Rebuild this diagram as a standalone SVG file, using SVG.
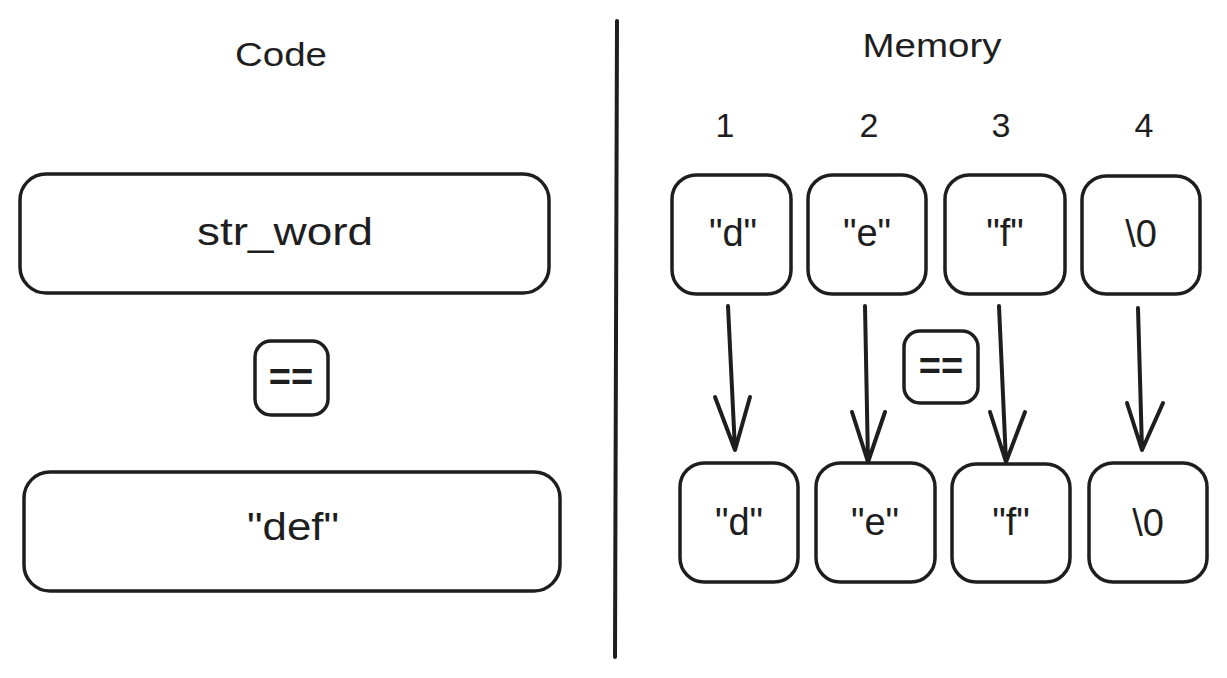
<svg xmlns="http://www.w3.org/2000/svg" width="1227" height="678" viewBox="0 0 1227 678">
<style>
.box{fill:none;stroke:#1e1e1e;stroke-width:3.5;stroke-linejoin:round}
.t{font-family:"Liberation Sans",Arial,sans-serif;fill:#1e1e1e;text-anchor:middle}
.big{font-size:38px}
.ttl{font-size:34px}
.con{fill:none;stroke:#1e1e1e;stroke-width:4;stroke-linecap:round;stroke-linejoin:round}
</style>
<rect width="1227" height="678" fill="#ffffff"/>
<g id="divider"><path class="con" d="M617 21 L615 657"/></g>
<g id="title-code"><text class="t ttl" x="281" y="66" textLength="92" lengthAdjust="spacingAndGlyphs">Code</text></g>
<g id="title-memory"><text class="t ttl" x="932" y="57" textLength="139" lengthAdjust="spacingAndGlyphs">Memory</text></g>
<g id="idx1"><text class="t ttl" x="725" y="137">1</text></g>
<g id="idx2"><text class="t ttl" x="869" y="137">2</text></g>
<g id="idx3"><text class="t ttl" x="1001" y="137">3</text></g>
<g id="idx4"><text class="t ttl" x="1144" y="137">4</text></g>

<g id="str-word"><rect class="box" x="20" y="174" width="529" height="119" rx="26"/><text class="t big" x="285" y="245" textLength="176" lengthAdjust="spacingAndGlyphs">str_word</text></g>
<g id="eq-code"><rect class="box" x="255" y="341" width="73" height="74" rx="16"/><text class="t big" x="291" y="390" font-weight="bold">==</text></g>
<g id="def"><rect class="box" x="24" y="472" width="536" height="119" rx="26"/><text class="t big" x="293" y="540" textLength="92" lengthAdjust="spacingAndGlyphs">"def"</text></g>

<g id="m-top-1"><rect class="box" x="672" y="175" width="119" height="119" rx="24"/><text class="t big" x="733" y="246">"d"</text></g>
<g id="m-top-2"><rect class="box" x="808" y="175" width="118" height="119" rx="24"/><text class="t big" x="867" y="246">"e"</text></g>
<g id="m-top-3"><rect class="box" x="945" y="175" width="120" height="119" rx="24"/><text class="t big" x="1005" y="246">"f"</text></g>
<g id="m-top-4"><rect class="box" x="1082" y="176" width="118" height="118" rx="24"/><text class="t big" x="1141" y="247">\0</text></g>

<g id="eq-mem"><rect class="box" x="904" y="331" width="74" height="72" rx="16"/><text class="t big" x="941" y="379" font-weight="bold">==</text></g>

<g id="m-bot-1"><rect class="box" x="680" y="463" width="118" height="119" rx="24"/><text class="t big" x="739" y="535">"d"</text></g>
<g id="m-bot-2"><rect class="box" x="816" y="463" width="119" height="119" rx="24"/><text class="t big" x="875" y="535">"e"</text></g>
<g id="m-bot-3"><rect class="box" x="952" y="464" width="118" height="118" rx="24"/><text class="t big" x="1011" y="535">"f"</text></g>
<g id="m-bot-4"><rect class="box" x="1089" y="463" width="118" height="119" rx="24"/><text class="t big" x="1148" y="536">\0</text></g>

<g id="connectors">
<path class="con" d="M728 306 L735 450 M715 397 L735 450 L750 397"/>
<path class="con" d="M865 306 L868 462 M852 412 L868 462 L885 412"/>
<path class="con" d="M999 306 L1006 462 M990 412 L1006 462 L1025 412"/>
<path class="con" d="M1138 308 L1142 450 M1127 403 L1142 450 L1163 403"/>
</g>
</svg>
